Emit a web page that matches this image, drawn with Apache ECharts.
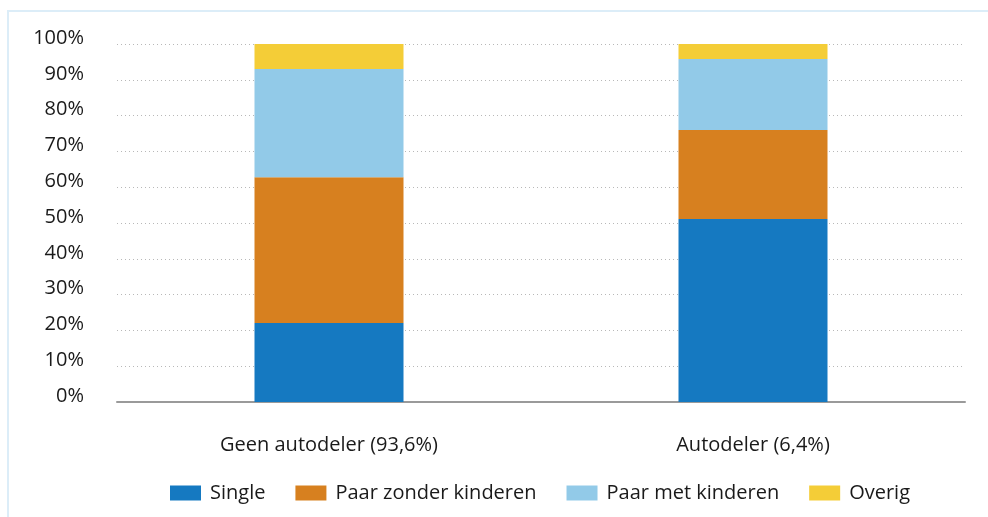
<!DOCTYPE html>
<html>
<head>
<meta charset="utf-8">
<script src="https://cdn.jsdelivr.net/npm/echarts@6/dist/echarts.min.js"></script>
<style>
    html, body { margin: 0; padding: 0; background: #fff; }
    #frame {
        position: absolute; left: 7px; top: 10px; width: 990px; height: 520px;
        border: 2px solid #dcedf8; box-sizing: border-box;
    }
    #chart { position: absolute; left: 0; top: 0; width: 988px; height: 517px; }
</style>
</head>
<body>
<div id="frame"></div>
<div id="chart"></div>
<script>
// categorieën
var categories = ['Geen autodeler (93,6%)', 'Autodeler (6,4%)'];
// huishoudtypen (aandeel in %)
var single = [22.1, 51.1];
var paarZonder = [40.7, 24.9];
var paarMet = [30.2, 19.8];
var overig = [7.0, 4.2];

var seriesNames = ['Single', 'Paar zonder kinderen', 'Paar met kinderen', 'Overig'];
var seriesData = [single, paarZonder, paarMet, overig];
var colors = ['#1579c1', '#d7801f', '#92cae8', '#f4cd37'];

var myChart = echarts.init(document.getElementById('chart'));

var seriesAry = [];
for (var i = 0; i < seriesNames.length; i++) {
    seriesAry.push({
        name: seriesNames[i],
        type: 'bar',
        stack: 'totaal',
        barWidth: 149,
        data: seriesData[i],
        itemStyle: { color: colors[i] }
    });
}

var option = {
    color: colors,
    textStyle: { fontFamily: 'Open Sans' },
    grid: {
        left: 117,
        right: 23,
        top: 44,
        bottom: 115
    },
    legend: {
        data: seriesNames,
        left: 165,
        top: 478,
        itemWidth: 31,
        itemHeight: 15,
        itemGap: 30,
        icon: 'rect',
        textStyle: { fontSize: 20, color: '#1a1a1a', padding: [0, 0, 0, 4] }
    },
    xAxis: {
        type: 'category',
        data: categories,
        axisTick: { show: false },
        axisLine: { lineStyle: { color: '#9a9a9a', width: 2 } },
        axisLabel: { fontSize: 20, color: '#1a1a1a', margin: 33 }
    },
    yAxis: {
        type: 'value',
        min: 0,
        max: 100,
        interval: 10,
        axisLine: { show: false },
        axisTick: { show: false },
        axisLabel: {
            formatter: '{value}%',
            fontSize: 20,
            color: '#1a1a1a',
            margin: 33,
            lineHeight: 12,
            verticalAlign: 'bottom'
        },
        splitLine: { lineStyle: { color: '#b8b8b8', type: [1, 3], width: 1 } }
    },
    series: seriesAry
};

myChart.setOption(option);
</script>
</body>
</html>
